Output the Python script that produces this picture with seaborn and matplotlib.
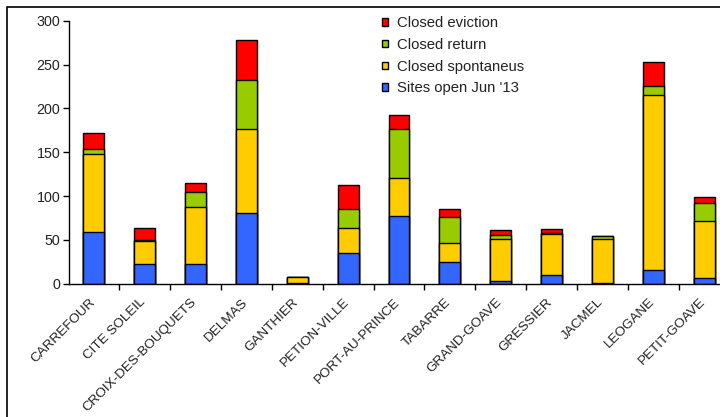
import numpy as np
import pandas as pd
import matplotlib
matplotlib.use("Agg")
import matplotlib.pyplot as plt
import matplotlib.patches as mpatches
import matplotlib.transforms as mtransforms
import seaborn as sns

communes = ["CARREFOUR", "CITE SOLEIL", "CROIX-DES-BOUQUETS", "DELMAS", "GANTHIER",
            "PETION-VILLE", "PORT-AU-PRINCE", "TABARRE", "GRAND-GOAVE", "GRESSIER",
            "JACMEL", "LEOGANE", "PETIT-GOAVE"]
sites_open = [59, 22, 22, 81, 1, 35, 77, 25, 3, 10, 1, 15, 6]
closed_spontaneous = [89, 27, 66, 96, 6, 28, 44, 21, 48, 47, 50, 200, 66]
closed_return = [6, 1, 17, 56, 0, 22, 56, 30, 4, 1, 3, 11, 20]
closed_eviction = [18, 13, 10, 45, 0, 28, 16, 9, 6, 4, 0, 27, 7]

series = ["Sites open Jun '13", "Closed spontaneus", "Closed return", "Closed eviction"]
colors = ["#3366FF", "#FFCC00", "#99CC00", "#FF0000"]

df = pd.DataFrame({"commune": communes,
                   series[0]: sites_open,
                   series[1]: closed_spontaneous,
                   series[2]: closed_return,
                   series[3]: closed_eviction})

sns.set_style("white")
plt.rcParams["font.family"] = ["Liberation Sans", "DejaVu Sans"]
txt = "#222222"

fig = plt.figure(figsize=(7.2, 4.17), dpi=100)
ax = fig.add_axes([68.5 / 720, 1 - 283.5 / 417, 661 / 720, 262.5 / 417])

# stack: draw cumulative totals from the top series down
cum = df[series].cumsum(axis=1)
for i in range(len(series) - 1, -1, -1):
    sns.barplot(x=df["commune"], y=cum[series[i]], color=colors[i], width=0.41,
                edgecolor="black", linewidth=1, saturation=1, ax=ax)

ax.set_xlim(-0.5, len(communes) - 0.5)
ax.set_ylim(0, 300)
ax.set_yticks([0, 50, 100, 150, 200, 250, 300])
ax.set_xlabel("")
ax.set_ylabel("")
for s in ["top", "right"]:
    ax.spines[s].set_visible(False)
for s in ["left", "bottom"]:
    ax.spines[s].set_color("black")
    ax.spines[s].set_linewidth(1)

ax.tick_params(axis="y", direction="out", length=4, width=1, color="black",
               labelsize=10.3, labelcolor=txt, pad=2, left=True)
ax.tick_params(axis="x", which="major", length=0, pad=9)
ax.set_xticks(np.arange(len(communes)) + 0.5, minor=True)
ax.tick_params(axis="x", which="minor", direction="out", length=4, width=1,
               color="black", bottom=True)
ax.set_xticks(np.arange(len(communes)))
ax.set_xticklabels(communes, rotation=45, ha="right", rotation_mode="anchor",
                   fontsize=9.7, color=txt)
shift = mtransforms.ScaledTranslation(-5 / 100, 0, fig.dpi_scale_trans)
for lab in ax.get_xticklabels():
    lab.set_transform(lab.get_transform() + shift)

handles = [mpatches.Patch(facecolor=colors[i], edgecolor="black", label=series[i])
           for i in range(len(series) - 1, -1, -1)]
leg = ax.legend(handles=handles, loc="upper left", bbox_to_anchor=(371.3 / 720, 0.986),
                bbox_transform=fig.transFigure, frameon=False, fontsize=10.7,
                handlelength=0.4, handleheight=0.4, handletextpad=0.6,
                labelspacing=0.52, borderpad=0.2)
for t in leg.get_texts():
    t.set_color(txt)

fig.patches.append(mpatches.Rectangle((7 / 720, -0.05), 1.2, 1 - 7 / 417 + 0.05,
                                      transform=fig.transFigure, fill=False,
                                      edgecolor="black", linewidth=1.2))

fig.savefig("out.png", dpi=100)
